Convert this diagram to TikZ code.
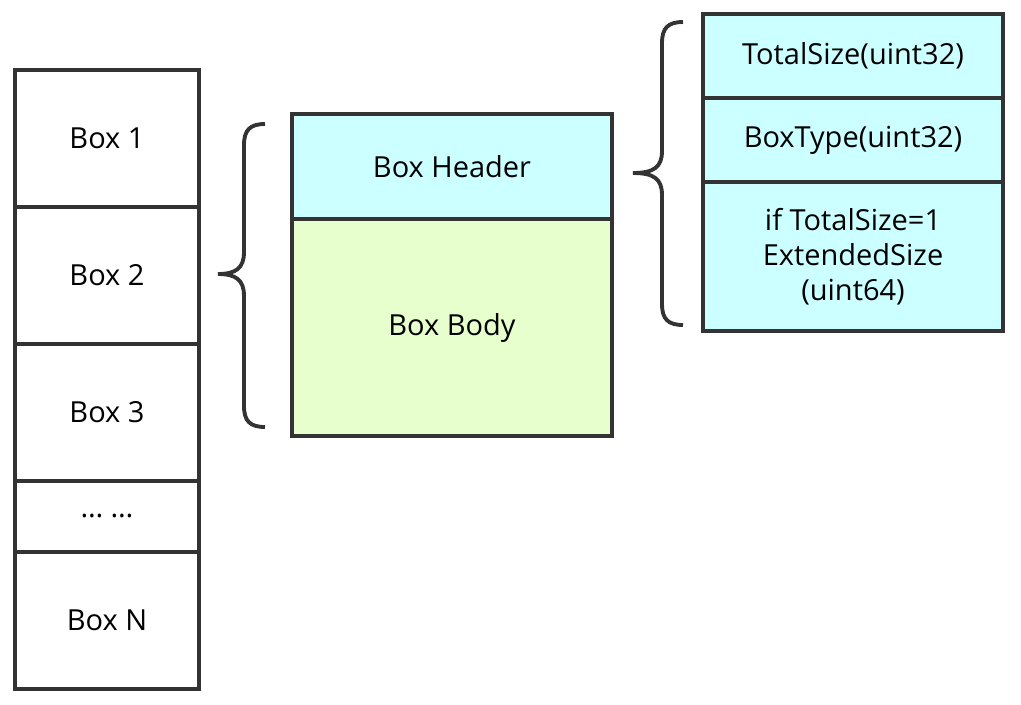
\documentclass[tikz,border=0pt]{standalone}
\usepackage{fontspec}
\setmainfont{Open Sans}
\usetikzlibrary{positioning}
\definecolor{linegray}{RGB}{51,51,51}
\definecolor{hdrcyan}{RGB}{204,255,255}
\definecolor{bodygreen}{RGB}{230,255,204}

\begin{document}
\begin{tikzpicture}[
    x=0.02cm, y=-0.02cm,
    node distance=0pt,
    cell/.style={
      draw=linegray, line width=2.2pt,
      inner sep=0pt, outer sep=0pt,
      font=\fontsize{16.5}{20}\selectfont,
      align=center
    },
    boxcell/.style={cell, minimum width=3.68cm, minimum height=2.74cm},
    midcell/.style={cell, minimum width=6.4cm},
    fieldcell/.style={cell, minimum width=6cm, fill=hdrcyan},
    curly/.style={draw=linegray, line width=2.2pt},
    sep/.style={draw=linegray, line width=2.2pt}
  ]
    \useasboundingbox (0,0) rectangle (1021,704);

    % File made of boxes
    \node[boxcell] (box1) at (107,138.5) {Box 1};
    \node[boxcell, below=of box1] (box2) {Box 2};
    \node[boxcell, below=of box2] (box3) {Box 3};
    \node[boxcell, below=of box3, minimum height=1.42cm] (dots) {\ldots\ \ldots};
    \node[boxcell, below=of dots] (boxN) {Box N};

    % One box
    \node[midcell, fill=hdrcyan, minimum height=2.1cm] (header) at (452,166.5) {Box Header};
    \node[midcell, fill=bodygreen, minimum height=4.34cm, below=of header] (body) {Box Body};

    % Header fields
    \node[fieldcell, minimum height=1.68cm] (size) at (853,56) {TotalSize(uint32)};
    \node[fieldcell, minimum height=1.68cm, below=of size] (type) {BoxType(uint32)};
    \node[fieldcell, minimum height=2.98cm, below=of type] (ext)
      {if TotalSize=1\\ExtendedSize\\(uint64)};

    % Row separators
    \foreach \a in {box1, box2, box3, dots, header, size, type}
      \draw[sep] (\a.south west) -- (\a.south east);

    % Braces
    \draw[curly] (265,124) .. controls (250,124) and (244,130) .. (244,145)
      -- (244,252) .. controls (244,268) and (236,274) .. (218,274)
      .. controls (236,274) and (244,280) .. (244,296)
      -- (244,406) .. controls (244,421) and (250,427) .. (265,427);
    \draw[curly] (683,22) .. controls (668,22) and (662,28) .. (662,43)
      -- (662,151) .. controls (662,167) and (654,173) .. (633,173)
      .. controls (654,173) and (662,179) .. (662,195)
      -- (662,304) .. controls (662,319) and (668,325) .. (683,325);
  \end{tikzpicture}
\end{document}
